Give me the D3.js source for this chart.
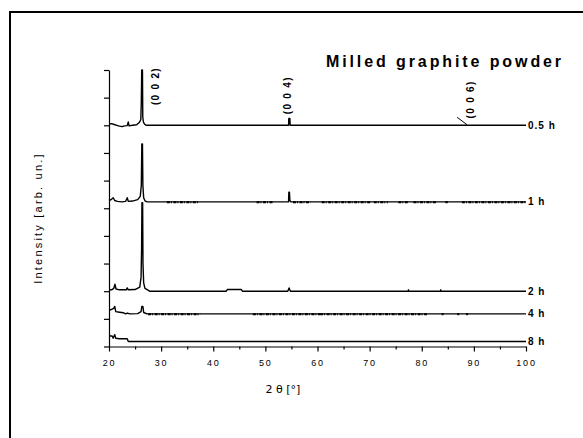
<!DOCTYPE html>
<html><head><meta charset="utf-8">
<script src="https://cdn.jsdelivr.net/npm/d3@7"></script>
<style>body{margin:0;background:#fff}svg{display:block}</style>
</head><body>
<script>
// ---- data ----
const seriesNames = ["0.5 h", "1 h", "2 h", "4 h", "8 h"];
const offsets = [8.0, 5.23, 2.0, 1.18, 0.18];
const s05 = [[20,0.05],[20.5,0.06],[21,0.03],[21.5,0],[22,-0.03],[22.5,-0.05],[23,-0.02],[23.5,-0.01],[23.7,0.12],[23.85,-0.02],[24.5,0],[25.3,0.02],[25.8,0.1],[26.1,0.2],[26.2,0.85],[26.28,2.0],[26.42,2.0],[26.48,0.3],[26.6,0.12],[26.8,0.05],[27.1,0],[54.45,0],[54.5,0.25],[54.7,0.25],[54.75,0],[100,0]];
const s1 = [[20,0.05],[20.4,0.08],[20.8,0.15],[21.1,0.05],[21.6,0.02],[22.5,0],[23.2,0.02],[23.5,0.15],[23.7,0.02],[24.5,0.03],[25.5,0.08],[26.0,0.2],[26.2,0.6],[26.3,2.1],[26.42,2.1],[26.5,0.6],[26.65,0.15],[26.9,0.04],[27.3,0],[54.45,0],[54.5,0.35],[54.62,0.35],[54.7,0.05],[54.9,0],[100,0]];
const s2 = [[20,0.05],[20.5,0.05],[20.9,0.1],[21.15,0.25],[21.35,0.08],[22,0.05],[23.3,0.05],[23.5,0.12],[23.7,0.05],[25,0.06],[25.9,0.15],[26.15,0.5],[26.25,1.5],[26.32,3.2],[26.45,3.2],[26.52,1.0],[26.65,0.3],[26.9,0.1],[27.4,0.05],[27.8,0],[42.5,0],[42.7,0.06],[45.4,0.06],[45.6,0],[54.3,0],[54.55,0.12],[54.8,0],[77.4,0],[77.45,0.05],[77.5,0],[83.6,0],[83.65,0.05],[83.7,0],[100,0]];
const s4 = [[20,0.15],[20.4,0.15],[20.9,0.2],[21.1,0.27],[21.3,0.08],[22,0.06],[22.8,0.04],[23.2,0],[23.5,0.03],[24,0],[25.5,0.01],[26.15,0.08],[26.3,0.27],[26.5,0.27],[26.65,0.05],[27.3,0],[100,0]];
const s8 = [[20,0.2],[20.6,0.2],[20.8,0.12],[21.1,0.25],[21.3,0.12],[22,0.1],[23.5,0.1],[23.7,0],[100,0]];
const seriesData = [s05, s1, s2, s4, s8];
// noisy (speckled) stretches of the 1 h and 4 h patterns, 2θ ranges
const noise1 = [[31.1,37.1],[48.3,51.5],[55.3,58.6],[60.8,70.1],[70.8,73.5],[75.5,77.5],[78.4,82.9],[84.5,85],[87.7,100]];
const noise4 = [[27.5,37.5],[47.6,60.5],[60.5,81],[83.8,84.2],[86.8,87.2],[88.5,88.9]];
const noiseSets = [[1, noise1], [3, noise4]];
// reflection labels: label position (2θ) and lower end of the label (units above the 0.5 h baseline)
const peakLabels = ["(0 0 2)", "(0 0 4)", "(0 0 6)"];
const peakLabelPos = [28.9, 54.2, 89.3];
const peakLabelLow = [0.73, 0.4, 0.25];
const xMajor = [20,30,40,50,60,70,80,90,100];
const xMinor = [25,35,45,55,65,75,85,95];
const yTicks = [0,1,2,3,4,5,6,7,8,9,10];

// ---- drawing ----
const W = 583, H = 438;
const svg = d3.select("body").append("svg").attr("width", W).attr("height", H);
svg.append("rect").attr("x", 10).attr("y", 12).attr("width", 620).attr("height", 500)
  .attr("fill", "none").attr("stroke", "#000").attr("stroke-width", 2);

const x = d3.scaleLinear().domain([20, 100]).range([109, 526]);
const y = d3.scaleLinear().domain([0, 10]).range([346.5, 70]);

// axes
const gx = svg.append("g").attr("transform", `translate(0,${y(0)})`)
  .call(d3.axisBottom(x).tickValues(xMajor).tickSize(5).tickSizeOuter(0).tickFormat(d3.format("d")));
svg.append("g").attr("transform", `translate(0,${y(0)})`)
  .call(d3.axisBottom(x).tickValues(xMinor).tickSize(3).tickFormat("")).select(".domain").remove();
const gy = svg.append("g").attr("transform", `translate(${x(20)},0)`)
  .call(d3.axisLeft(y).tickValues(yTicks).tickSize(5).tickSizeOuter(0).tickFormat(""));
svg.selectAll(".domain, .tick line").attr("stroke", "#000").attr("stroke-width", 1.2);
gx.selectAll("text").attr("font-family", "Liberation Sans, Arial, sans-serif").attr("font-size", 9)
  .attr("letter-spacing", "1.8px").attr("fill", "#000").attr("dy", "1.25em");

// traces
const line = d3.line().x(d => x(d[0]));
seriesData.forEach((s, i) => {
  line.y(d => y(d[1] + offsets[i]));
  svg.append("path").attr("d", line(s)).attr("fill", "none").attr("stroke", "#000")
    .attr("stroke-width", 1.4).attr("stroke-linejoin", "round");
  svg.append("text").attr("x", x(100) + 2).attr("y", y(offsets[i])).attr("dy", "0.35em")
    .attr("font-family", "Liberation Sans, Arial, sans-serif").attr("font-weight", "bold")
    .attr("font-size", 10).attr("letter-spacing", "1px").text(seriesNames[i]);
});
noiseSets.forEach(([i, ranges]) => {
  ranges.forEach(r => {
    svg.append("line").attr("x1", x(r[0])).attr("x2", x(r[1]))
      .attr("y1", y(offsets[i]) + 0.3).attr("y2", y(offsets[i]) + 0.3)
      .attr("stroke", "#000").attr("stroke-width", 2).attr("stroke-dasharray", "3,1,1,1.5");
  });
});

// peak labels
peakLabels.forEach((lab, k) => {
  svg.append("text").attr("transform", `translate(${x(peakLabelPos[k])},${y(offsets[0] + peakLabelLow[k])}) rotate(-90)`)
    .attr("dy", "0.35em").attr("font-family", "Liberation Sans, Arial, sans-serif")
    .attr("font-weight", "bold").attr("font-size", 10).attr("letter-spacing", "1.3px").text(lab);
});
// leader for (0 0 6)
svg.append("line").attr("x1", x(86.8)).attr("y1", y(offsets[0]) - 8)
  .attr("x2", x(88.7)).attr("y2", y(offsets[0]) - 0.5).attr("stroke", "#000").attr("stroke-width", 1);

// title and axis labels
svg.append("text").attr("x", 564).attr("y", 67).attr("text-anchor", "end")
  .attr("font-family", "Liberation Sans, Arial, sans-serif").attr("font-weight", "bold")
  .attr("font-size", 16).attr("letter-spacing", "2.9px").text("Milled graphite powder");
svg.append("text").attr("x", 283).attr("y", 393).attr("text-anchor", "middle")
  .attr("font-family", "DejaVu Sans, sans-serif").attr("font-size", 11).text("2 θ [°]");
svg.append("text").attr("transform", "translate(42,218) rotate(-90)").attr("text-anchor", "middle")
  .attr("font-family", "Liberation Sans, Arial, sans-serif").attr("font-size", 11)
  .attr("letter-spacing", "2.2px").text("Intensity [arb. un.]");
</script>
</body></html>
